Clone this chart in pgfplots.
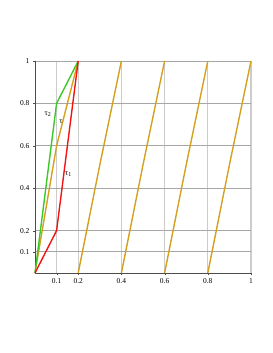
\documentclass[border=0pt]{standalone}
\usepackage{pgfplots}
\pgfplotsset{compat=1.18}
\usepackage{fontspec}
\setmainfont{Liberation Serif}
\definecolor{tgreen}{RGB}{60,200,40}
\definecolor{tred}{RGB}{240,20,20}
\definecolor{tgold}{RGB}{212,160,30}
\begin{document}
\begin{tikzpicture}
\begin{axis}[name=ax,
  scale only axis, width=216bp, height=212bp,
  xmin=0, xmax=1, ymin=0, ymax=1,
  axis lines=left, axis line style={draw=black!70, line width=0.9pt, -},
  xtick={0.1,0.2,0.4,0.6,0.8,1}, ytick={0.1,0.2,0.4,0.6,0.8,1},
  xticklabels={0.1,0.2,0.4,0.6,0.8,1}, yticklabels={0.1,0.2,0.4,0.6,0.8,1},
  tick label style={font=\fontsize{7.5}{8}\selectfont},
  tick align=outside, major tick length=2bp, tick style={black!70},
  grid=major,
  x grid style={black!20, line width=1.4pt},
  y grid style={black!35, line width=0.7pt},
  clip=false,
]
\addplot[tgold, line width=1.4pt] coordinates {(0,0) (0.1,0.6) (0.2,1)};
\addplot[tgreen, line width=1.4pt] coordinates {(0,0) (0.1,0.8) (0.2,1)};
\addplot[tred, line width=1.4pt] coordinates {(0,0) (0.1,0.2) (0.2,1)};
\addplot[tgold, line width=1.4pt] coordinates {(0.2,0) (0.3,0.51) (0.4,1)};
\addplot[tgold, line width=1.4pt] coordinates {(0.4,0) (0.5,0.51) (0.6,1)};
\addplot[tgold, line width=1.4pt] coordinates {(0.6,0) (0.7,0.51) (0.8,1)};
\addplot[tgold, line width=1.4pt] coordinates {(0.8,0) (0.9,0.51) (1,1)};
\node[font=\fontsize{8}{9}\selectfont] at (axis cs:0.06,0.75) {τ\textsubscript{2}};
\node[font=\fontsize{8}{9}\selectfont] at (axis cs:0.12,0.715) {τ};
\node[font=\fontsize{8}{9}\selectfont] at (axis cs:0.155,0.465) {τ\textsubscript{1}};
\end{axis}
\path ([xshift=-35bp,yshift=-80bp]ax.south west) rectangle ([xshift=22bp,yshift=61bp]ax.north east);
\end{tikzpicture}
\end{document}
